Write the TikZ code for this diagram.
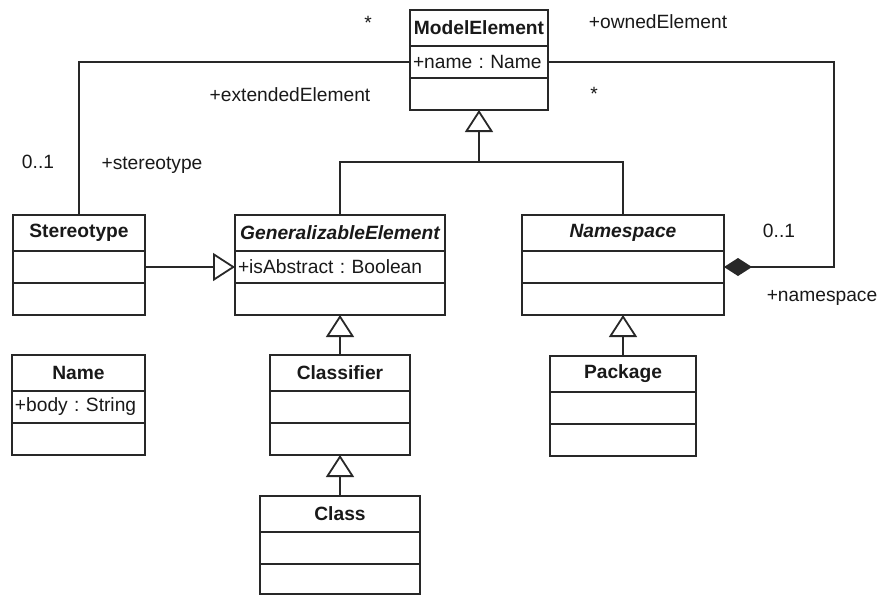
\documentclass[tikz,border=0pt]{standalone}
\usepackage{fontspec}
\setmainfont{Liberation Sans}
\usepackage{tikz}
\usetikzlibrary{arrows.meta, positioning}
\definecolor{UMLInk}{RGB}{40, 40, 40}
\definecolor{UMLText}{RGB}{25, 25, 25}
\frenchspacing

\newcommand{\umlsize}{\fontsize{9.6}{11}\selectfont}

\tikzset{
  umlpart/.style={draw=UMLInk, line width=0.9pt, fill=white, outer sep=0pt,
                  inner xsep=1.5pt, inner ysep=1pt, text=UMLText, font=\umlsize},
  umltitle/.style={umlpart, minimum width=#1, minimum height=18pt, font=\umlsize\bfseries},
  umlabstract/.style={umltitle=#1, font=\umlsize\bfseries\itshape},
  umlslot/.style={umlpart, minimum width=#1, minimum height=16pt},
  umlattr/.style={umlpart, text width=#1, minimum height=16pt, align=left},
  umlline/.style={draw=UMLInk, line width=0.9pt},
  inherits/.style={umlline, -{Triangle[open, length=11pt, width=14pt]}},
  umlrole/.style={text=UMLText, font=\umlsize, inner sep=0pt}
}

\begin{document}
\begin{tikzpicture}[x=0.5pt, y=-0.5pt]
  \useasboundingbox (0,0) rectangle (879,595);

  % classes
  \node[umltitle=69pt, anchor=north west] (modelel) at (410,10) {ModelElement};
  \node[umlattr=66pt, below=0pt of modelel] (modelel-attr) {+name : Name};
  \node[umlslot=69pt, below=0pt of modelel-attr] (modelel-ops) {};

  \node[umltitle=66pt, anchor=north west] (stereo) at (13,215) {Stereotype};
  \node[umlslot=66pt, below=0pt of stereo] (stereo-attr) {};
  \node[umlslot=66pt, below=0pt of stereo-attr] (stereo-ops) {};

  \node[umlabstract=105pt, anchor=north west] (genel) at (235,215) {GeneralizableElement};
  \node[umlattr=102pt, below=0pt of genel] (genel-attr) {+isAbstract : Boolean};
  \node[umlslot=105pt, below=0pt of genel-attr] (genel-ops) {};

  \node[umlabstract=101pt, anchor=north west] (nspace) at (522,215) {Namespace};
  \node[umlslot=101pt, below=0pt of nspace] (nspace-attr) {};
  \node[umlslot=101pt, below=0pt of nspace-attr] (nspace-ops) {};

  \node[umltitle=66.5pt, anchor=north west] (name) at (12,355) {Name};
  \node[umlattr=63.5pt, below=0pt of name] (name-attr) {+body : String};
  \node[umlslot=66.5pt, below=0pt of name-attr] (name-ops) {};

  \node[umltitle=70pt, anchor=north west] (classif) at (270,355) {Classifier};
  \node[umlslot=70pt, below=0pt of classif] (classif-attr) {};
  \node[umlslot=70pt, below=0pt of classif-attr] (classif-ops) {};

  \node[umltitle=73pt, anchor=north west] (pkg) at (550,356) {Package};
  \node[umlslot=73pt, below=0pt of pkg] (pkg-attr) {};
  \node[umlslot=73pt, below=0pt of pkg-attr] (pkg-ops) {};

  \node[umltitle=80pt, anchor=north west] (clss) at (260,496) {Class};
  \node[umlslot=80pt, below=0pt of clss] (clss-attr) {};
  \node[umlslot=80pt, minimum height=15pt, below=0pt of clss-attr] (clss-ops) {};

  % generalizations
  \coordinate (genbar) at (479,162);
  \draw[inherits] (genbar) -- (modelel-ops.south);
  \draw[umlline] (genel.north) |- (genbar) -| (nspace.north);
  \draw[inherits] (classif.north) -- (genel-ops.south);
  \draw[inherits] (clss.north) -- (classif-ops.south);
  \draw[inherits] (pkg.north) -- (nspace-ops.south);
  \draw[inherits] (stereo-attr.east) -- (genel-attr.west);

  % associations
  \draw[umlline] (stereo.north) |- (modelel-attr.west);
  \draw[umlline, {Diamond[length=14pt, width=9pt]}-] (nspace-attr.east) -- ++(110,0) |- (modelel-attr.east);

  % role names and multiplicities
  \node[umlrole, anchor=base] (ext-mult) at (368,29) {*};
  \node[umlrole] (owned-role) at (658,22) {+ownedElement};
  \node[umlrole, anchor=base] (owned-mult) at (594,100) {*};
  \node[umlrole] (ext-role) at (290,95) {+extendedElement};
  \node[umlrole] (stereo-mult) at (38,162) {0..1};
  \node[umlrole] (stereo-role) at (152,165) {+stereotype};
  \node[umlrole] (ns-mult) at (779,231) {0..1};
  \node[umlrole] (ns-role) at (822,298) {+namespace};
\end{tikzpicture}
\end{document}
